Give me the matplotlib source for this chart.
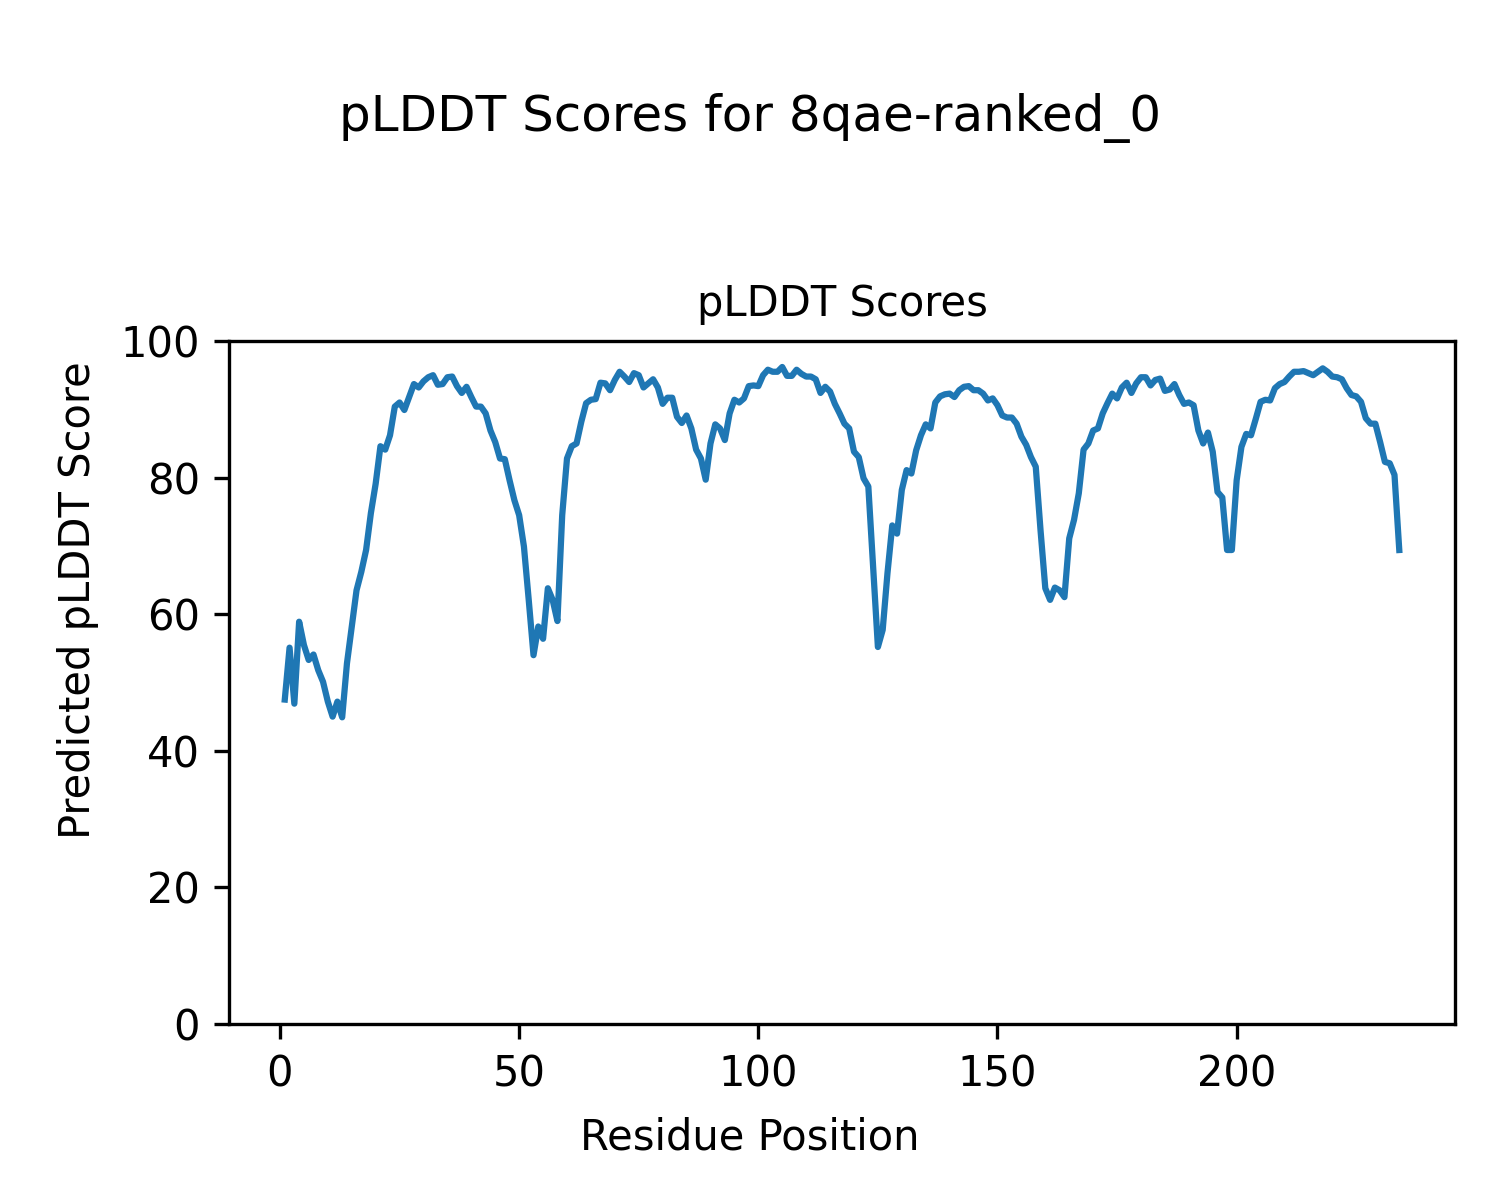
import numpy as np
import matplotlib
matplotlib.use("Agg")
import matplotlib.pyplot as plt

# pLDDT per residue (residues 1..234)
plddt = [
    47.5, 55.1, 46.9, 58.9, 55.5, 53.3, 54.1, 51.8, 50.1, 47.2,
    45.0, 47.2, 44.9, 52.8, 58.2, 63.5, 66.2, 69.4, 74.8, 79.1,
    84.6, 84.1, 86.2, 90.4, 91.0, 89.9, 91.8, 93.7, 93.2, 94.1,
    94.7, 95.0, 93.6, 93.7, 94.7, 94.8, 93.4, 92.4, 93.3, 91.8,
    90.4, 90.4, 89.4, 86.9, 85.2, 82.8, 82.7, 79.6, 76.7, 74.5,
    69.9, 62.1, 54.0, 58.2, 56.4, 63.8, 62.1, 59.0, 74.5, 82.8,
    84.6, 85.0, 88.2, 90.9, 91.4, 91.5, 93.9, 93.8, 92.8, 94.3,
    95.5, 94.8, 94.0, 95.3, 95.0, 93.2, 93.8, 94.4, 93.2, 90.8,
    91.7, 91.7, 88.9, 88.0, 89.1, 87.2, 84.1, 82.8, 79.7, 85.0,
    87.8, 87.2, 85.5, 89.4, 91.4, 91.0, 91.6, 93.4, 93.5, 93.4,
    95.0, 95.8, 95.5, 95.5, 96.2, 94.9, 94.9, 95.8, 95.2, 94.8,
    94.8, 94.4, 92.4, 93.3, 92.6, 90.8, 89.4, 87.9, 87.2, 83.8,
    83.0, 79.9, 78.7, 67.0, 55.2, 57.7, 66.0, 73.0, 71.8, 78.2,
    81.1, 80.6, 84.0, 86.2, 87.8, 87.2, 91.0, 91.9, 92.2, 92.3,
    91.8, 92.8, 93.3, 93.4, 92.8, 92.8, 92.3, 91.3, 91.6, 90.6,
    89.1, 88.8, 88.8, 87.9, 86.0, 84.8, 83.0, 81.6, 72.3, 63.8,
    62.1, 63.9, 63.5, 62.5, 71.1, 73.8, 77.7, 84.1, 85.0, 86.9,
    87.2, 89.4, 90.9, 92.3, 91.6, 93.2, 93.9, 92.4, 93.8, 94.7,
    94.7, 93.5, 94.3, 94.5, 92.7, 92.9, 93.7, 92.1, 90.8, 91.0,
    90.6, 86.9, 85.0, 86.6, 83.8, 77.9, 77.1, 69.4, 69.4, 79.6,
    84.5, 86.4, 86.2, 88.6, 91.1, 91.4, 91.3, 93.1, 93.7, 94.0,
    94.8, 95.5, 95.5, 95.6, 95.3, 95.0, 95.5, 96.0, 95.5, 94.8,
    94.7, 94.4, 93.1, 92.1, 91.9, 91.1, 88.7, 87.9, 87.9, 85.2,
    82.3, 82.1, 80.4, 69.4,
]
residues = np.arange(1, len(plddt) + 1)

fig = plt.figure(figsize=(5, 4), dpi=300)
ax = fig.add_axes([0.1527, 0.1467, 0.8173, 0.5691])

ax.plot(residues, plddt, color="#1f77b4", linewidth=1.5)
ax.set_ylim(0, 100)
ax.set_title("pLDDT Scores", fontsize=10)

# figure-level labels (centred on the figure, not the axes)
fig.text(0.5, 0.0517, "Residue Position", ha="center", va="center", fontsize=10)
fig.text(0.052, 0.5, "Predicted pLDDT Score", ha="center", va="center",
         rotation="vertical", fontsize=10)

fig.suptitle("pLDDT Scores for 8qae-ranked_0", fontsize=12, y=0.9017, va="center")

fig.savefig("out.png", dpi=300)
